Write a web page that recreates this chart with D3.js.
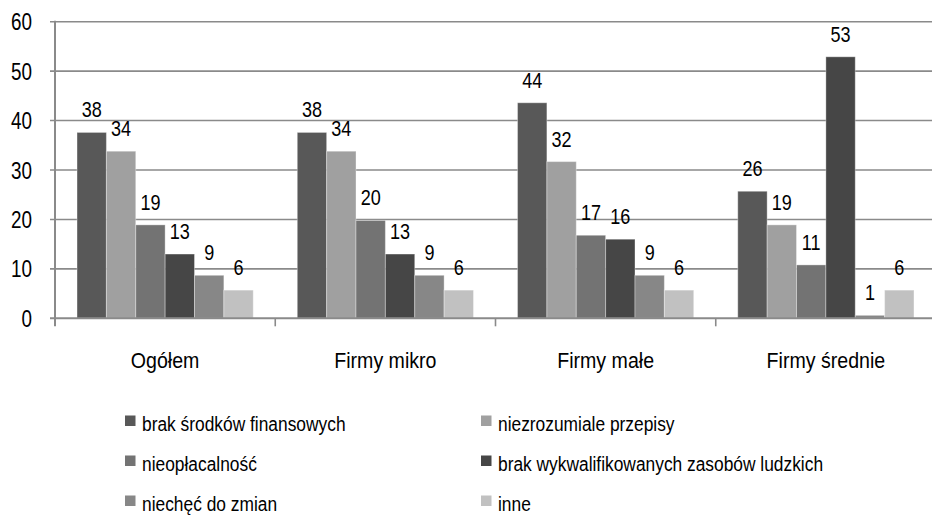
<!DOCTYPE html>
<html>
<head>
<meta charset="utf-8">
<script src="https://cdn.jsdelivr.net/npm/d3@7"></script>
<style>
  html, body { margin: 0; padding: 0; background: #fff; }
  svg { display: block; font-family: "Liberation Sans", Arial, sans-serif; }
</style>
</head>
<body>
<svg id="chart" width="932" height="518"></svg>
<script>
const categories = ["Ogółem", "Firmy mikro", "Firmy małe", "Firmy średnie"];
const seriesNames = [
  "brak środków finansowych",
  "niezrozumiale przepisy",
  "nieopłacalność",
  "brak wykwalifikowanych zasobów ludzkich",
  "niechęć do zmian",
  "inne"
];
const brakSrodkow      = [37.6, 37.6, 43.6, 25.7];
const niezrozumiale    = [33.8, 33.8, 31.7, 18.9];
const nieoplacalnosc   = [18.9, 19.8, 16.8, 10.8];
const brakZasobow      = [13.0, 13.0, 16.0, 52.9];
const niechec          = [8.7, 8.7, 8.7, 0.6];
const inne             = [5.7, 5.7, 5.7, 5.7];
const yTicks = [0, 10, 20, 30, 40, 50, 60];
const colors = ["#585858", "#a0a0a0", "#737373", "#464646", "#878787", "#c1c1c1"];

const seriesValues = [brakSrodkow, niezrozumiale, nieoplacalnosc, brakZasobow, niechec, inne];

const svg = d3.select("#chart");
const plotL = 55, plotR = 936, plotT = 21.7, plotB = 318.3;
const gridColor = "#8a8a8a";

const x0 = d3.scaleBand().domain(categories).range([plotL, plotR]).paddingInner(0).paddingOuter(0);
const x1 = d3.scaleBand().domain(d3.range(seriesNames.length)).range([0, x0.bandwidth()])
  .paddingInner(0).paddingOuter(0.75);
const y = d3.scaleLinear().domain([0, 60]).range([plotB, plotT]);

function squeeze(sel, f) {
  sel.each(function () {
    const w = this.getComputedTextLength();
    this.setAttribute("textLength", (w * f).toFixed(2));
    this.setAttribute("lengthAdjust", "spacingAndGlyphs");
  });
}

// gridlines
svg.append("g").selectAll("line").data(yTicks.filter(d => d > 0)).join("line")
  .attr("x1", plotL - 5).attr("x2", 932)
  .attr("y1", d => y(d)).attr("y2", d => y(d))
  .attr("stroke", gridColor).attr("stroke-width", 1.6);

// y tick labels
const yl = svg.append("g").selectAll("text").data(yTicks).join("text")
  .attr("x", 32).attr("y", d => y(d) + 8.5)
  .attr("text-anchor", "end").attr("font-size", 23).attr("fill", "#000")
  .text(d => d);
squeeze(yl, 0.82);

// bars
const groups = svg.append("g").selectAll("g").data(categories).join("g")
  .attr("transform", d => `translate(${x0(d)},0)`);

groups.each(function (cat, ci) {
  const g = d3.select(this);
  const data = seriesValues.map((arr, si) => ({ si, v: arr[ci] }));
  g.selectAll("rect").data(data).join("rect")
    .attr("x", d => x1(d.si)).attr("width", x1.bandwidth())
    .attr("y", d => y(d.v)).attr("height", d => y(0) - y(d.v))
    .attr("fill", d => colors[d.si])
    .attr("stroke", "rgba(255,255,255,0.35)").attr("stroke-width", 1);
  const lab = g.selectAll("text").data(data).join("text")
    .attr("x", d => x1(d.si) + x1.bandwidth() / 2)
    .attr("y", d => y(d.v) - 15)
    .attr("text-anchor", "middle").attr("font-size", 22).attr("fill", "#000")
    .text(d => d3.format(".0f")(d.v));
  squeeze(lab, 0.82);
});

// axes
svg.append("line").attr("x1", plotL).attr("x2", plotL).attr("y1", y(60) - 1).attr("y2", plotB + 8)
  .attr("stroke", gridColor).attr("stroke-width", 2);
svg.append("line").attr("x1", plotL - 5).attr("x2", 932).attr("y1", plotB).attr("y2", plotB)
  .attr("stroke", gridColor).attr("stroke-width", 2);
svg.append("g").selectAll("line").data(categories.slice(1)).join("line")
  .attr("x1", d => x0(d)).attr("x2", d => x0(d))
  .attr("y1", plotB).attr("y2", plotB + 8)
  .attr("stroke", gridColor).attr("stroke-width", 1.6);

// category labels
const cl = svg.append("g").selectAll("text").data(categories).join("text")
  .attr("x", d => x0(d) + x0.bandwidth() / 2).attr("y", 368)
  .attr("text-anchor", "middle").attr("font-size", 22).attr("fill", "#000")
  .text(d => d);
squeeze(cl, 0.89);

// legend
const legX = [125, 481], legY = [431, 471, 511];
const leg = svg.append("g").selectAll("g").data(seriesNames).join("g")
  .attr("transform", (d, i) => `translate(${legX[i % 2]},${legY[Math.floor(i / 2)]})`);
leg.append("rect").attr("x", 0).attr("y", -15.5).attr("width", 10.5).attr("height", 10.5)
  .attr("fill", (d, i) => colors[i]);
const lt = leg.append("text").attr("x", 17).attr("y", 0)
  .attr("font-size", 19.5).attr("fill", "#000").text(d => d);
squeeze(lt, 0.89);
</script>
</body>
</html>
